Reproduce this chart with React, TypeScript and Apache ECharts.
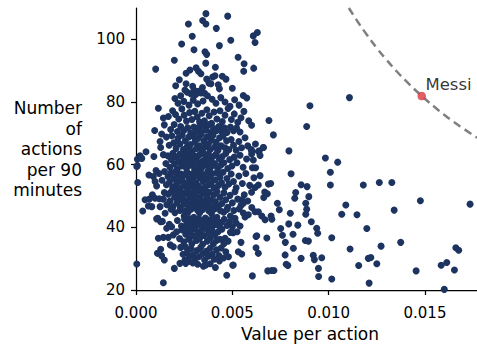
import React, { useEffect, useRef } from "react";
import * as echarts from "echarts";

// [value per action, number of actions per 90 minutes]
const topPlayers: [number, number][] = [
  [0.00363,108.2],[0.00476,107.4],[0.00272,104.9],[0.00346,106.0],[0.00363,104.9],[0.00417,103.5],[0.00292,101.0],
  [0.00609,101.1],[0.0063,102.2],[0.00618,99.0],[0.00492,99.7],[0.00237,98.5],[0.00433,98.0],[0.00301,96.7],
  [0.00358,96.0],[0.00367,95.2],[0.00199,93.3],[0.00362,92.4],[0.0053,94.3],[0.00561,92.2],[0.00559,89.8],
  [0.00611,90.8],[0.00102,90.5],[0.00412,91.1],[0.00312,90.9],[0.00324,89.8],[0.00337,89.0],[0.0028,90.2],
  [0.0026,89.2],[0.00225,87.1],[0.00398,88.0],[0.0041,88.4],[0.00448,88.2],[0.00467,87.3],[0.00367,87.3],[0.00379,86.0],
];

const upperPlayers: [number, number][] = [
  [0.00206,85.2],[0.0026,85.8],[0.00294,85.0],[0.00301,83.8],[0.00324,83.4],[0.00337,82.9],[0.00427,85.5],
  [0.00433,84.2],[0.005,84.4],[0.00389,85.8],[0.00254,83.8],[0.00266,83.1],[0.00285,82.6],[0.0031,82.4],
  [0.00356,82.8],[0.00371,82.0],[0.00557,82.1],[0.00575,81.3],[0.00512,80.7],[0.00202,81.1],[0.00345,84.6],
  [0.00232,82.0],[0.00218,79.6],[0.00248,80.2],[0.00275,79.0],[0.00297,80.6],[0.0032,79.4],[0.00348,80.3],
  [0.00395,80.9],[0.00415,79.6],[0.0044,81.4],[0.00462,80.0],[0.00488,78.6],[0.00535,79.0],[0.00116,78.0],
  [0.00142,74.9],[0.00168,75.4],[0.0019,77.2],[0.00205,76.0],[0.00222,74.6],[0.00238,77.8],[0.0025,75.8],
  [0.00262,73.9],[0.00278,76.6],[0.0029,74.4],[0.00305,77.0],[0.00318,75.2],[0.0033,73.6],[0.00342,76.4],
  [0.00355,74.0],[0.00368,77.5],[0.0038,75.6],[0.00392,73.2],[0.00405,76.8],[0.0042,74.6],[0.00436,77.2],
  [0.00448,73.8],[0.00462,75.8],[0.00478,77.9],[0.00495,74.4],[0.0051,76.2],[0.00528,73.5],[0.00545,75.0],
  [0.0056,77.0],[0.00585,74.0],[0.006,72.6],[0.00147,72.7],[0.0018,71.2],[0.00198,72.8],[0.00215,70.6],
  [0.00232,72.2],[0.00248,70.9],[0.00268,71.8],[0.00284,70.2],[0.003,72.0],[0.00314,70.6],[0.00326,71.9],
  [0.0034,70.4],[0.00352,72.4],[0.00366,71.0],[0.00378,72.8],[0.0039,70.2],[0.00402,71.6],[0.00416,70.8],
  [0.0043,72.2],[0.00444,70.6],[0.00458,71.8],[0.00472,70.3],[0.0049,72.0],[0.00506,70.8],[0.00522,71.7],
  [0.0054,70.4],[0.00097,70.9],[0.00133,69.8],
];

const middlePlayers: [number, number][] = [
  [0.00128,65.5],[0.00125,67.4],[0.00158,68.8],[0.00172,66.2],[0.00186,69.2],[0.00196,67.0],[0.00208,65.2],
  [0.00218,68.4],[0.00228,66.6],[0.0024,69.4],[0.00246,64.8],[0.00256,67.6],[0.00265,65.6],[0.00274,68.8],
  [0.00282,66.4],[0.00292,64.4],[0.00298,69.0],[0.00306,67.2],[0.00314,65.2],[0.00322,68.4],[0.0033,66.0],
  [0.00338,69.6],[0.00344,64.6],[0.00352,67.6],[0.0036,65.8],[0.00368,68.8],[0.00376,66.6],[0.00384,64.8],
  [0.00392,67.8],[0.004,69.4],[0.00408,65.6],[0.00416,67.2],[0.00426,64.6],[0.00434,68.6],[0.00442,66.0],
  [0.00452,69.2],[0.00462,65.4],[0.0047,67.6],[0.00482,64.8],[0.00494,68.0],[0.00506,66.2],[0.0052,64.6],
  [0.00534,67.4],[0.00548,65.4],[0.00566,68.6],[0.0058,66.0],[0.00598,64.8],[0.0062,66.6],[0.0064,64.4],
  [0.00661,65.5],[0.00052,64.1],[0.00021,62.8],[0.00007,61.7],[0.00093,62.6],[0.00007,59.7],[0.00004,59.4],
  [0.0003,62.0],[0.00142,63.2],[0.00155,60.4],[0.00166,62.8],[0.00176,59.2],[0.00184,61.6],[0.00192,63.6],
  [0.002,60.2],[0.00208,62.4],[0.00214,58.6],[0.00222,61.0],[0.00228,63.4],[0.00236,59.6],[0.00242,62.0],
  [0.0025,60.6],[0.00256,63.0],[0.00262,58.8],[0.00268,61.4],[0.00274,63.8],[0.0028,59.8],[0.00286,62.2],
  [0.00292,60.4],[0.00298,63.0],[0.00304,58.6],[0.0031,61.6],[0.00316,59.4],[0.00322,62.8],[0.00328,60.6],
  [0.00334,63.4],[0.0034,58.9],[0.00346,61.2],[0.00352,63.6],[0.00358,59.8],[0.00364,62.2],[0.0037,60.2],
  [0.00376,63.2],[0.00382,58.6],[0.00388,61.4],[0.00394,59.6],[0.004,62.6],[0.00408,60.4],[0.00416,63.4],
  [0.00424,58.8],[0.00432,61.8],[0.0044,59.8],[0.00448,62.6],[0.00456,60.6],[0.00466,63.6],[0.00476,58.8],
  [0.00486,61.6],[0.00498,59.6],[0.0051,62.4],[0.00524,60.6],[0.0054,63.0],[0.00556,59.2],[0.00574,61.8],
  [0.006,63.4],[0.00601,64.4],[0.00635,64.2],[0.00644,62.9],[0.00609,61.5],[0.00604,59.0],[0.00621,59.0],
  [0.00104,58.1],[0.00067,56.7],[0.0009,56.2],[0.00009,54.3],[0.00099,54.6],[0.00107,53.2],
  [0.0012,57.2],[0.00135,55.0],[0.00148,57.8],[0.00158,53.6],[0.00166,56.2],[0.00174,54.4],[0.00182,57.4],
  [0.0019,52.8],[0.00196,55.6],[0.00204,57.8],[0.0021,53.8],[0.00216,56.6],[0.00222,54.6],[0.00228,52.4],
  [0.00234,57.0],[0.0024,55.2],[0.00246,53.2],[0.00252,56.8],[0.00258,54.0],[0.00264,57.6],[0.0027,52.6],
  [0.00276,55.6],[0.00282,53.8],[0.00288,57.0],[0.00294,55.0],[0.003,52.8],[0.00306,56.4],[0.00312,54.2],
  [0.00318,57.6],[0.00324,53.2],[0.0033,55.8],[0.00336,52.4],[0.00342,57.0],[0.00348,54.6],[0.00354,56.2],
  [0.0036,52.8],[0.00366,55.4],[0.00372,57.8],[0.00378,53.6],[0.00384,56.0],[0.0039,54.0],[0.00396,57.2],
  [0.00404,52.6],[0.00412,55.2],[0.0042,57.4],[0.00428,53.4],[0.00436,56.0],[0.00444,54.2],[0.00452,57.6],
  [0.00462,52.8],[0.00472,55.6],[0.00482,53.8],[0.00494,57.0],[0.00506,54.6],[0.0052,52.6],[0.00534,56.4],
  [0.00552,54.0],[0.0057,57.2],[0.0059,53.4],[0.00612,55.8],[0.00618,52.7],[0.00635,53.5],[0.00644,56.5],
  [0.00668,51.3],[0.00682,50.7],[0.00687,53.8],[0.00699,54.0],[0.00663,49.5],
];

const lowerPlayers: [number, number][] = [
  [0.00085,50.4],[0.00147,51.1],[0.00047,48.8],[0.00069,49.0],[0.00099,49.3],[0.00121,49.1],[0.00142,49.0],
  [0.00064,46.8],[0.00082,46.6],[0.00125,46.6],[0.00035,45.2],[0.0016,47.2],[0.00168,50.6],[0.00176,48.4],
  [0.00184,51.4],[0.00192,46.6],[0.002,49.6],[0.00206,51.8],[0.00212,47.8],[0.00218,50.4],[0.00224,48.8],
  [0.0023,46.4],[0.00236,51.2],[0.00242,49.2],[0.00248,47.4],[0.00254,50.8],[0.0026,48.4],[0.00266,51.6],
  [0.00272,46.8],[0.00278,49.8],[0.00284,47.6],[0.0029,51.0],[0.00296,48.6],[0.00302,46.4],[0.00308,50.2],
  [0.00314,48.0],[0.0032,51.6],[0.00326,46.8],[0.00332,49.4],[0.00338,47.4],[0.00344,50.8],[0.0035,48.4],
  [0.00356,51.8],[0.00362,46.6],[0.00368,49.8],[0.00374,47.8],[0.0038,51.2],[0.00388,48.8],[0.00396,46.6],
  [0.00404,50.4],[0.00412,48.2],[0.0042,51.4],[0.00428,46.8],[0.00436,49.6],[0.00446,47.6],[0.00456,51.0],
  [0.00466,48.8],[0.00476,46.4],[0.00488,50.2],[0.005,47.8],[0.00514,51.4],[0.00528,49.0],[0.00545,47.0],
  [0.00562,50.4],[0.0058,48.4],[0.006,51.2],[0.00549,48.8],[0.00557,47.7],[0.00601,46.3],[0.00618,45.0],
  [0.00151,44.5],[0.00173,41.0],[0.00185,40.2],[0.00107,42.7],[0.00137,41.9],[0.00113,42.9],[0.00128,41.8],
  [0.00701,43.6],[0.00705,42.6],[0.00557,44.6],[0.00566,43.3],[0.00583,44.0],[0.00635,45.0],[0.00653,43.6],
  [0.0067,42.4],[0.00202,44.7],[0.00228,45.4],[0.0025,43.6],[0.0027,44.8],[0.003,43.2],[0.0033,44.6],
  [0.0036,43.0],[0.00392,44.4],[0.0042,43.2],[0.00455,44.8],[0.0049,43.6],[0.00514,42.9],
  [0.0032,45.4],[0.00286,45.8],[0.00345,45.6],[0.00378,45.2],[0.00408,45.9],[0.00438,45.3],[0.00472,45.7],
  [0.00256,45.2],[0.00508,45.4],[0.00182,45.8],[0.00536,45.9],
  [0.00215,42.2],[0.00236,40.4],[0.00252,42.6],[0.00264,41.0],[0.00276,42.8],[0.00286,40.6],[0.00296,42.0],
  [0.00306,40.2],[0.00316,41.6],[0.00326,42.8],[0.00336,40.6],[0.00346,42.2],[0.00356,41.0],[0.00366,42.6],
  [0.00376,40.4],[0.00386,41.8],[0.00396,42.8],[0.00408,40.8],[0.0042,42.0],[0.00432,40.4],[0.00444,41.6],
  [0.00458,42.6],[0.00472,40.6],[0.00486,41.8],[0.005,40.2],[0.0052,41.4],[0.0054,40.4],
  [0.00116,36.5],[0.00142,36.8],[0.00168,36.8],[0.00159,39.7],[0.00194,37.6],[0.00211,38.6],[0.00178,34.4],
  [0.00194,33.8],[0.00623,37.1],[0.00627,37.3],[0.00679,36.6],[0.00623,33.5],[0.00505,38.3],[0.00462,36.5],
  [0.00226,36.4],[0.00238,39.2],[0.00248,35.4],[0.00258,37.8],[0.00266,39.6],[0.00274,36.2],[0.00282,38.4],
  [0.0029,34.8],[0.00298,37.2],[0.00306,39.4],[0.00314,35.8],[0.00322,38.0],[0.0033,36.4],[0.00338,39.0],
  [0.00346,34.6],[0.00354,37.4],[0.00362,39.6],[0.0037,35.6],[0.00378,38.2],[0.00386,36.6],[0.00394,39.2],
  [0.00402,34.8],[0.0041,37.6],[0.00418,35.8],[0.00426,38.6],[0.00436,36.2],[0.00446,39.4],[0.00456,34.8],
  [0.00478,35.6],[0.0049,38.4],[0.00525,38.6],[0.00545,35.2],
  [0.00111,31.7],[0.00133,30.9],[0.00147,29.6],[0.00128,33.0],[0.00531,32.2],[0.00549,31.5],[0.00635,31.7],
  [0.00004,28.3],[0.00228,28.5],[0.00254,29.6],[0.00272,29.1],[0.00433,29.3],[0.00502,27.9],
  [0.00232,33.6],[0.00244,31.4],[0.00256,33.8],[0.00266,32.0],[0.00276,30.4],[0.00286,33.2],[0.00296,31.2],
  [0.00306,29.8],[0.00316,32.6],[0.00326,30.6],[0.00336,33.6],[0.00346,31.6],[0.00356,29.6],[0.00366,32.4],
  [0.00376,30.8],[0.00386,33.4],[0.00396,31.4],[0.00406,29.8],[0.00418,32.8],[0.0043,31.0],[0.00442,33.4],
  [0.00454,30.2],[0.00466,32.2],[0.0048,30.6],[0.00295,28.6],[0.0032,28.2],[0.0035,27.6],[0.00385,28.4],
  [0.00412,27.2],[0.00363,28.0],[0.00258,28.5],[0.00505,28.0],
  [0.00199,26.9],[0.00142,22.3],[0.00471,24.7],[0.00604,24.5],[0.00684,26.1],[0.00704,26.2],[0.00716,26.2],
];

const sparsePlayers: [number, number][] = [
  [0.01108,81.4],[0.00903,78.8],[0.00886,72.2],[0.0069,74.1],[0.00713,69.5],[0.00661,65.5],[0.00794,64.4],
  [0.00805,57.1],[0.00983,62.1],[0.01047,60.8],[0.01009,57.6],[0.01009,53.5],[0.00857,53.6],[0.00888,53.0],
  [0.0118,53.5],[0.01263,54.3],[0.01328,54.3],[0.01476,48.5],[0.01734,47.4],[0.0134,45.5],[0.01089,47.1],
  [0.01068,44.2],[0.01147,44.0],[0.01198,39.6],[0.00734,47.7],[0.00744,45.6],[0.00824,49.3],[0.00829,51.1],
  [0.00897,49.8],[0.00881,47.7],[0.00886,45.8],[0.00881,44.2],[0.00801,44.5],[0.00751,39.6],[0.00793,41.1],
  [0.0084,40.7],[0.0091,41.8],[0.0076,37.5],[0.00815,37.8],[0.00775,35.2],[0.00879,35.8],[0.00895,35.6],
  [0.00938,39.7],[0.00943,38.1],[0.01016,36.7],[0.01374,35.2],[0.00817,33.3],[0.00774,31.2],[0.0078,28.2],
  [0.00788,27.8],[0.00857,30.1],[0.0092,31.1],[0.00926,29.7],[0.00964,30.3],[0.01111,33.1],[0.01272,34.0],
  [0.01206,30.1],[0.01219,30.4],[0.0125,28.4],[0.01613,28.8],[0.01584,27.9],[0.0166,33.5],[0.01675,32.7],
  [0.01156,27.8],[0.0121,22.2],[0.01016,23.5],[0.00948,24.3],[0.00947,26.9],[0.01454,26.1],[0.01653,26.4],
  [0.016,20.2],
];

const messi: [number, number] = [0.01483, 81.9];

// points
const curveX = [0.01105, 0.0115, 0.012, 0.0125, 0.013, 0.0135, 0.014, 0.0148, 0.0155, 0.016, 0.0165, 0.017, 0.0177];
const curveY = [110.0, 105.7, 101.3, 97.2, 93.5, 90.0, 86.8, 82.1, 78.4, 75.9, 73.6, 71.5, 68.6];

const xTicks = [0, 0.005, 0.01, 0.015];
const yTicks = [20, 40, 60, 80, 100];

const FONT = "DejaVu Sans";

export default function App() {
  const ref = useRef<HTMLDivElement>(null);
  useEffect(() => {
    if (!ref.current) return;
    const chart = echarts.init(ref.current, undefined, { renderer: "svg" });
    const players = [...topPlayers, ...upperPlayers, ...middlePlayers, ...lowerPlayers, ...sparsePlayers];
    chart.setOption({
      animation: false,
      grid: { left: 136, right: 0, top: 8, bottom: 55, containLabel: false, outerBoundsMode: "none" },
      xAxis: {
        type: "value",
        min: 0,
        max: 0.0177,
        interval: 0.005,
        splitLine: { show: false },
        axisLine: { lineStyle: { color: "#000", width: 1.25 } },
        axisTick: { show: true, length: 5, lineStyle: { color: "#000", width: 1.25 } },
        axisLabel: {
          color: "#000",
          fontSize: 15,
          fontFamily: FONT,
          margin: 15,
          showMaxLabel: false,
          formatter: (v: number) => (xTicks.some((t) => Math.abs(t - v) < 1e-9) ? v.toFixed(3) : ""),
        },
        name: "Value per action",
        nameLocation: "middle",
        nameGap: 35,
        nameTextStyle: { color: "#000", fontSize: 17, fontFamily: FONT, padding: [0, 0, 0, 7] },
      },
      yAxis: {
        type: "value",
        min: 20,
        max: 110,
        interval: 20,
        splitLine: { show: false },
        axisLine: { lineStyle: { color: "#000", width: 1.25 } },
        axisTick: { show: true, length: 5, lineStyle: { color: "#000", width: 1.25 } },
        axisLabel: {
          color: "#000",
          fontSize: 15,
          fontFamily: FONT,
          margin: 11,
          showMaxLabel: false,
          formatter: (v: number) => (yTicks.includes(v) ? String(v) : ""),
        },
      },
      graphic: [
        {
          type: "text",
          x: 82,
          y: 149,
          style: {
            text: "Number\nof\nactions\nper 90\nminutes",
            fill: "#000",
            font: `17px '${FONT}'`,
            align: "right",
            verticalAlign: "middle",
            lineHeight: 20.5,
          },
        },
      ],
      series: [
        {
          type: "line",
          data: curveX.map((x, i) => [x, curveY[i]]),
          smooth: true,
          showSymbol: false,
          symbol: "none",
          clip: true,
          lineStyle: { color: "#808080", width: 2.5, type: [8, 5] },
          z: 1,
        },
        {
          type: "scatter",
          data: players,
          symbolSize: 7,
          itemStyle: { color: "#1d3360", opacity: 1 },
          z: 2,
        },
        {
          type: "scatter",
          data: [messi],
          symbolSize: 8.5,
          itemStyle: { color: "#d9363e" },
          label: {
            show: true,
            formatter: "Messi",
            position: [8, -7.5],
            align: "left",
            verticalAlign: "middle",
            color: "#000",
            fontSize: 16.5,
            fontFamily: FONT,
          },
          z: 3,
        },
      ],
    });
    return () => chart.dispose();
  }, []);
  return <div ref={ref} style={{ width: 477, height: 345, position: "absolute", left: 0, top: 0 }} />;
}
